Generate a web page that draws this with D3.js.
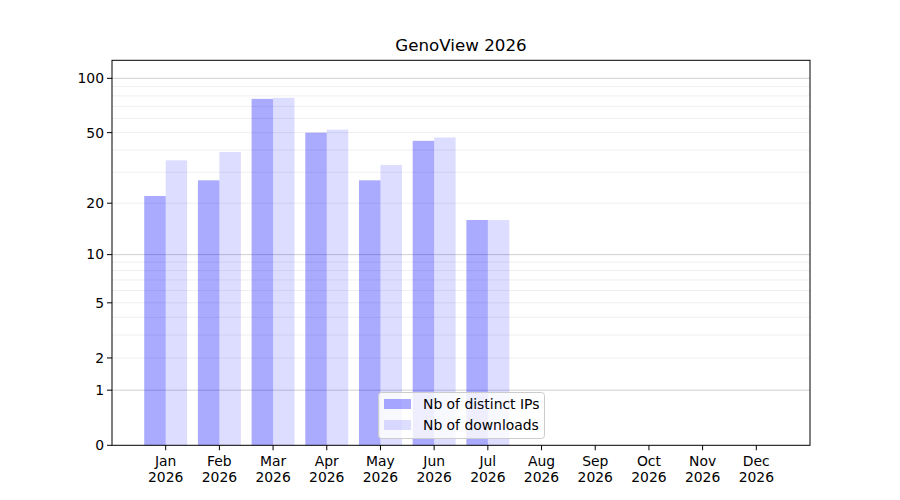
<!DOCTYPE html>
<html><head><meta charset="utf-8">
<script src="https://cdn.jsdelivr.net/npm/d3@7"></script>
<style>body{margin:0;background:#fff}svg{font-family:"DejaVu Sans",sans-serif}</style>
</head><body><svg id="c" width="900" height="500"></svg>
<script>
const months = ["Jan","Feb","Mar","Apr","May","Jun","Jul","Aug","Sep","Oct","Nov","Dec"];
const year = "2026";
const distinctIPs = [22, 27, 77, 50, 27, 45, 16, null, null, null, null, null];
const downloads = [35, 39, 78, 52, 33, 47, 16, null, null, null, null, null];
const majorTicks = [0, 1, 2, 5, 10, 20, 50, 100];
const majorGrid = [1, 10, 100];
const minorGrid = [2,3,4,5,6,7,8,9,20,30,40,50,60,70,80,90];
const seriesNames = ["Nb of distinct IPs", "Nb of downloads"];
const title = "GenoView 2026";

const svg = d3.select("#c");
const L = 112, R = 810, T = 60.3, B = 445.3;
const x = d3.scaleLinear().domain([-1, 12]).range([L, R]);
const t = v => Math.log10(v + 1);
const yLin = d3.scaleLinear().domain([0, 2.1027]).range([B, T]);
const y = v => yLin(t(v));

// grids
svg.append("g").selectAll("line").data(minorGrid).join("line")
  .attr("x1", L).attr("x2", R).attr("y1", d => y(d)).attr("y2", d => y(d))
  .attr("stroke", "#ebebeb").attr("stroke-width", 0.8);
svg.append("g").selectAll("line").data(majorGrid).join("line")
  .attr("x1", L).attr("x2", R).attr("y1", d => y(d)).attr("y2", d => y(d))
  .attr("stroke", "#c4c4c4").attr("stroke-width", 0.8);

const w = x(0.4) - x(0);
const g = svg.append("g");
g.selectAll("rect.ip").data(distinctIPs.map((v,i)=>({v,i})).filter(d=>d.v!=null)).join("rect")
  .attr("x", d => x(d.i) - w).attr("width", w)
  .attr("y", d => y(d.v)).attr("height", d => B - y(d.v))
  .attr("fill", "blue").attr("fill-opacity", 0.333);
g.selectAll("rect.dl").data(downloads.map((v,i)=>({v,i})).filter(d=>d.v!=null)).join("rect")
  .attr("x", d => x(d.i)).attr("width", w)
  .attr("y", d => y(d.v)).attr("height", d => B - y(d.v))
  .attr("fill", "blue").attr("fill-opacity", 0.133);

// axes frame
svg.append("rect").attr("x", L).attr("y", T).attr("width", R-L).attr("height", B-T)
  .attr("fill", "none").attr("stroke", "#000").attr("stroke-width", 1);

// y ticks
const yt = svg.append("g");
majorTicks.forEach(v => {
  yt.append("line").attr("x1", L-5).attr("x2", L).attr("y1", y(v)).attr("y2", y(v)).attr("stroke", "#000");
  yt.append("text").attr("x", L-8).attr("y", y(v)).attr("dy", "0.35em").attr("text-anchor", "end")
    .attr("font-size", 13.9).attr("fill", "#000").text(v);
});
// x ticks
const xt = svg.append("g");
months.forEach((m, i) => {
  xt.append("line").attr("x1", x(i)).attr("x2", x(i)).attr("y1", B).attr("y2", B+5).attr("stroke", "#000");
  const tx = xt.append("text").attr("x", x(i)).attr("y", B+21).attr("text-anchor", "middle")
    .attr("font-size", 13.9).attr("fill", "#000");
  tx.append("tspan").attr("x", x(i)).text(m);
  tx.append("tspan").attr("x", x(i)).attr("dy", 15.5).text(year);
});

svg.append("text").attr("x", (L+R)/2).attr("y", 51).attr("text-anchor", "middle")
  .attr("font-size", 16.7).attr("fill", "#000").text(title);

// legend
const lg = svg.append("g");
lg.append("rect").attr("x", 378.5).attr("y", 392.5).attr("width", 166).attr("height", 46).attr("rx", 3)
  .attr("fill", "#fff").attr("fill-opacity", 0.8).attr("stroke", "#cccccc");
[0.333, 0.133].forEach((op, k) => {
  lg.append("rect").attr("x", 384).attr("y", 399 + k*21).attr("width", 27).attr("height", 10)
    .attr("fill", "blue").attr("fill-opacity", op);
  lg.append("text").attr("x", 423).attr("y", 404 + k*21).attr("dy", "0.35em").attr("font-size", 13.9)
    .attr("fill", "#000").text(seriesNames[k]);
});
</script></body></html>
